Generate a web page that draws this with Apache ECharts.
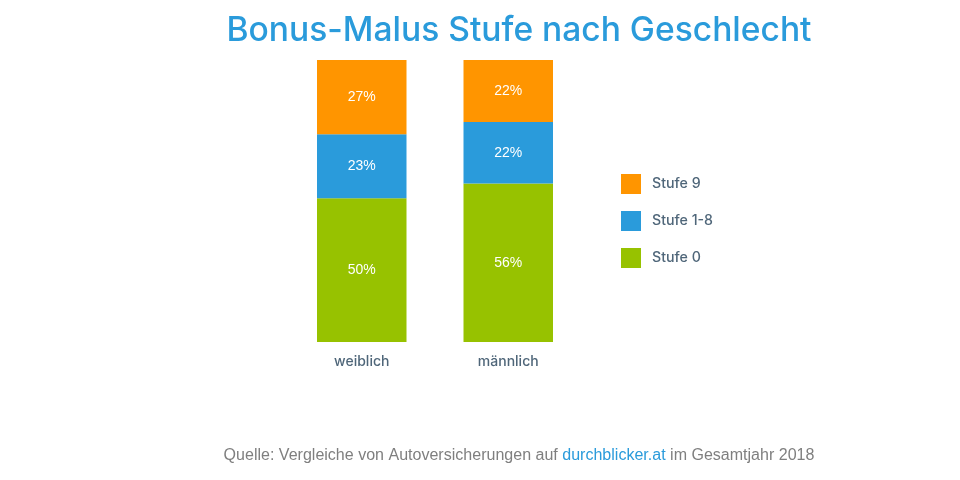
<!DOCTYPE html>
<html>
<head>
<meta charset="utf-8">
<style>html,body{margin:0;background:#fff}#container{width:960px;height:480px}</style>
<script src="https://cdn.jsdelivr.net/npm/echarts@6/dist/echarts.min.js"></script>
</head>
<body>
<div id="container"></div>
<script>
var categories = ['weiblich', 'männlich'];
// segment heights as drawn, printed percentages kept separately
var stufe0 = [51, 56.2];
var stufe18 = [22.7, 21.8];
var stufe9 = [26.3, 22];
var stufe0Labels = ['50%', '56%'];
var stufe18Labels = ['23%', '22%'];
var stufe9Labels = ['27%', '22%'];

var font = '"Liberation Sans", Arial, sans-serif';
var fontMedium = 'Inter, "Liberation Sans", sans-serif';

function barSeries(name, values, labels, color) {
    return {
        name: name,
        type: 'bar',
        stack: 'total',
        barWidth: 89.5,
        data: values,
        itemStyle: { color: color },
        label: {
            show: true,
            position: 'inside',
            color: '#fff',
            fontFamily: font,
            fontSize: 14,
            formatter: function (p) { return labels[p.dataIndex]; }
        }
    };
}

var myChart = echarts.init(document.getElementById('container'));
var option = {
    animation: false,
    title: [{
        text: 'Bonus-Malus Stufe nach Geschlecht',
        left: 514,
        top: 9,
        textAlign: 'center',
        textStyle: { color: '#2a9bdb', fontFamily: fontMedium, fontWeight: 500, fontSize: 33.6 }
    }, {
        text: '{a|Quelle: Vergleiche von Autoversicherungen auf }{b|durchblicker.at}{a| im Gesamtjahr 2018}',
        left: 514,
        top: 443,
        textAlign: 'center',
        textStyle: {
            fontWeight: 'normal',
            rich: {
                a: { color: '#7f7f7f', fontFamily: font, fontSize: 16.05, fontWeight: 'normal' },
                b: { color: '#2a9bdb', fontFamily: font, fontSize: 16.05, fontWeight: 'normal' }
            }
        }
    }],
    legend: {
        orient: 'vertical',
        left: 616,
        top: 169,
        itemWidth: 20,
        itemHeight: 20,
        itemGap: 17,
        icon: 'rect',
        data: ['Stufe 9', 'Stufe 1-8', 'Stufe 0'],
        textStyle: { color: '#4f6679', fontFamily: fontMedium, fontWeight: 500, fontSize: 14.2, padding: [1, 0, 0, 6] }
    },
    grid: { left: 288.5, top: 60, width: 293, height: 282 },
    xAxis: {
        type: 'category',
        data: categories,
        axisLine: { show: false },
        axisTick: { show: false },
        axisLabel: { color: '#4f6679', fontFamily: fontMedium, fontWeight: 500, fontSize: 14, margin: 13 }
    },
    yAxis: { type: 'value', min: 0, max: 100, show: false },
    series: [
        barSeries('Stufe 0', stufe0, stufe0Labels, '#97c200'),
        barSeries('Stufe 1-8', stufe18, stufe18Labels, '#2a9bdb'),
        barSeries('Stufe 9', stufe9, stufe9Labels, '#ff9500')
    ]
};
myChart.setOption(option);
</script>
</body>
</html>
